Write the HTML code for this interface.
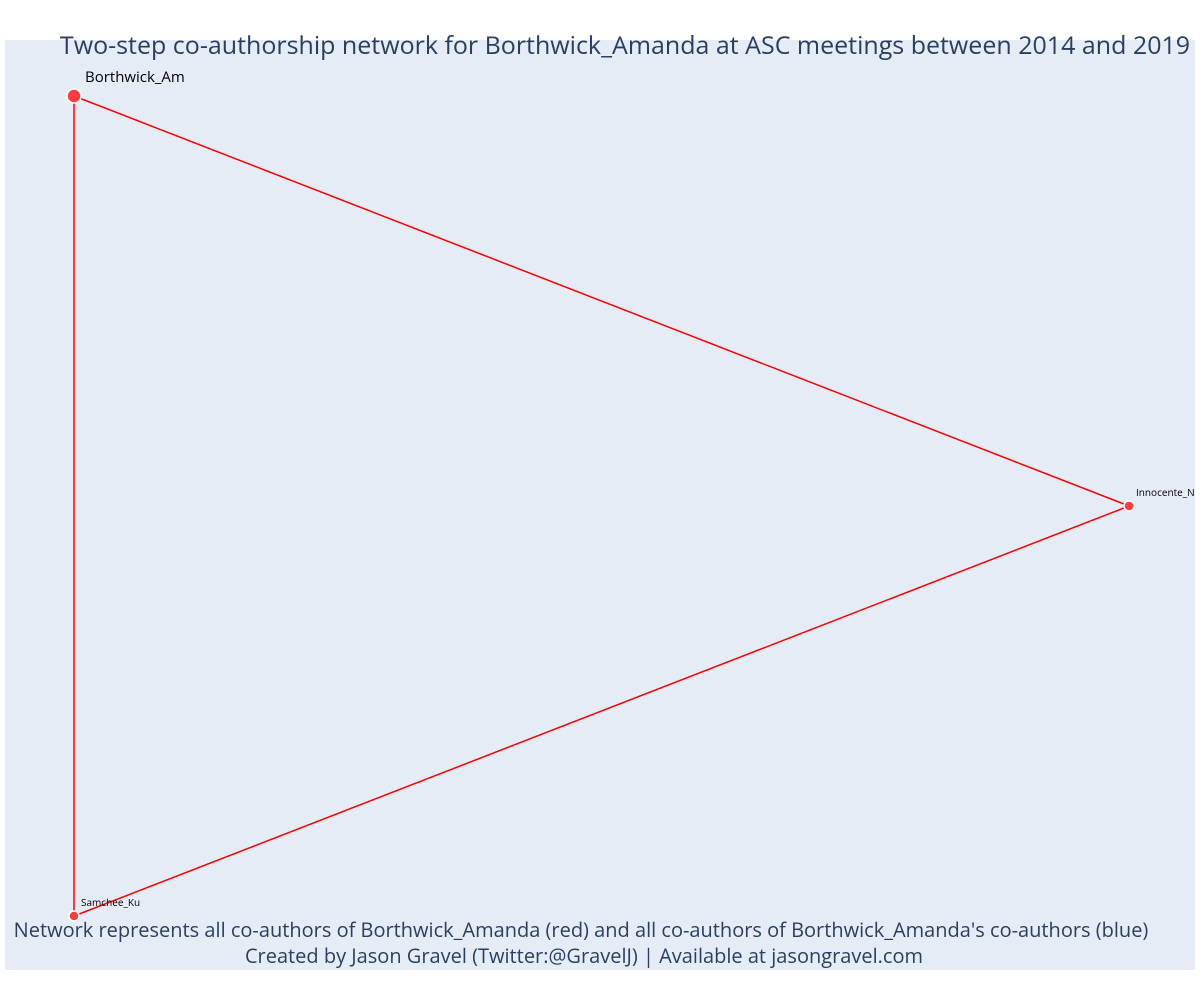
<!DOCTYPE html>
<html><head><meta charset="utf-8"><style>
html,body{margin:0;padding:0;background:#fff;}
svg{display:block;font-family:"Open Sans","Liberation Sans",sans-serif;}
</style></head><body>
<svg id="chart" width="1200" height="1000">
<rect x="5" y="40" width="1190" height="930" fill="#e5ecf6"/>
<text x="625" y="54" text-anchor="middle" font-size="25" fill="#2a3f5f">Two-step co-authorship network for Borthwick_Amanda at ASC meetings between 2014 and 2019</text>
<g id="edges"></g><g id="nodes"></g>
<text x="581" y="937" text-anchor="middle" font-size="20" fill="#2a3f5f">Network represents all co-authors of Borthwick_Amanda (red) and all co-authors of Borthwick_Amanda's co-authors (blue)</text>
<text x="584" y="963" text-anchor="middle" font-size="20" fill="#2a3f5f">Created by Jason Gravel (Twitter:@GravelJ) | Available at jasongravel.com</text>
</svg>
<script>
const nodeNames = ["Borthwick_Am", "Innocente_N", "Samchee_Ku"];
const nodeX = [0, 1, 0];
const nodeY = [1, 0.5, 0];
const nodeSize = [7, 5, 5];
const labelSize = [15, 10, 10];
const edgeFrom = [0, 0, 1];
const edgeTo = [1, 2, 2];
const ns = "http://www.w3.org/2000/svg";
function sx(v){return 74 + v*(1129-74);}
function sy(v){return 916 - v*(916-96);}
const eg = document.getElementById('edges'), ng = document.getElementById('nodes');
edgeFrom.forEach((f,i)=>{
  const l = document.createElementNS(ns,'line');
  l.setAttribute('x1',sx(nodeX[f]));l.setAttribute('y1',sy(nodeY[f]));
  l.setAttribute('x2',sx(nodeX[edgeTo[i]]));l.setAttribute('y2',sy(nodeY[edgeTo[i]]));
  l.setAttribute('stroke','#ff0000');l.setAttribute('stroke-width','1.5');
  
  
  eg.appendChild(l);
});
nodeNames.forEach((n,i)=>{
  const c = document.createElementNS(ns,'circle');
  c.setAttribute('cx',sx(nodeX[i]));c.setAttribute('cy',sy(nodeY[i]));c.setAttribute('r',nodeSize[i]);
  c.setAttribute('fill','#ff3b3b');c.setAttribute('stroke','#fff');c.setAttribute('stroke-width','1.5');
  
  
  ng.appendChild(c);
  const t = document.createElementNS(ns,'text');
  t.setAttribute('x',sx(nodeX[i])+(i==0?11:7));t.setAttribute('y',sy(nodeY[i])-(i==0?14:10));
  t.setAttribute('font-size',labelSize[i]);t.setAttribute('fill','#000');
  t.textContent = n;
  
  
  ng.appendChild(t);
});
</script>
</body></html>
